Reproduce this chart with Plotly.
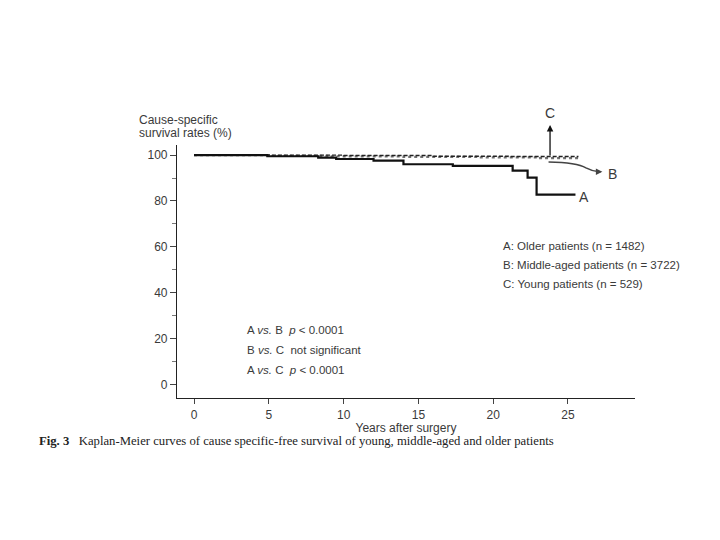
import plotly.graph_objects as go

# Kaplan-Meier step data (years, survival %)
a_years = [0, 4.9, 8.3, 9.5, 12.0, 14.0, 17.3, 21.3, 22.3, 22.9, 25.5]
a_surv = [100, 99.5, 98.9, 98.3, 97.6, 96.0, 95.3, 93.2, 90.2, 82.8, 82.8]

b_years = [0, 5.0, 9.0, 14.0, 19.0, 23.0, 25.8]
b_surv = [100, 99.7, 99.4, 99.2, 99.0, 98.7, 98.7]

c_years = [0, 10.0, 16.0, 21.0, 25.7]
c_surv = [100, 99.8, 99.5, 99.4, 99.4]

x_ticks = [0, 5, 10, 15, 20, 25]
y_ticks = [0, 20, 40, 60, 80, 100]

legend_lines = ["A: Older patients (n = 1482)",
                "B: Middle-aged patients (n = 3722)",
                "C: Young patients (n = 529)"]
pvalue_lines = ["A <i>vs.</i> B  <i>p</i> < 0.0001",
                "B <i>vs.</i> C  not significant",
                "A <i>vs.</i> C  <i>p</i> < 0.0001"]
title_lines = ["Cause-specific", "survival rates (%)"]

TXT = "#3a3a3a"
SANS = "Liberation Sans, Arial, sans-serif"


def py(pix):
    """screen pixel row -> paper y"""
    return (398 - pix) / 253


def px(pix):
    """screen pixel column -> paper x"""
    return (pix - 177) / 458


fig = go.Figure()
fig.add_trace(go.Scatter(x=b_years, y=b_surv, mode="lines", line_shape="hv",
                         line=dict(color="#707070", width=2.2, dash="dot"), showlegend=False))
fig.add_trace(go.Scatter(x=c_years, y=c_surv, mode="lines", line_shape="hv",
                         line=dict(color="#222222", width=1.4, dash="4px,2px"), showlegend=False))
fig.add_trace(go.Scatter(x=a_years, y=a_surv, mode="lines", line_shape="hv",
                         line=dict(color="#111111", width=2.2), showlegend=False))

# C arrow (pointing up to label)
fig.add_annotation(x=23.8, xref="x", yref="paper", y=py(125), ax=0, ay=32, text="",
                   showarrow=True, arrowhead=2, arrowsize=1, arrowwidth=1.3, arrowcolor="#111")
fig.add_annotation(x=23.8, xref="x", yref="paper", y=py(123), text="C", showarrow=False,
                   yanchor="bottom", font=dict(family=SANS, size=14, color=TXT))
# B curved arrow
fig.add_shape(type="path", path="M 23.7 97.0 Q 25.6 96.8 26.2 94.4 Q 26.6 93.0 27.0 92.9",
              line=dict(color="#444", width=1.5))
fig.add_annotation(x=27.3, y=92.7, ax=-6, ay=0, text="", showarrow=True,
                   arrowhead=2, arrowsize=1, arrowwidth=1.3, arrowcolor="#444")
fig.add_annotation(x=28.0, y=91.8, text="B", showarrow=False,
                   font=dict(family=SANS, size=14, color=TXT))
fig.add_annotation(x=26.1, y=81.8, text="A", showarrow=False,
                   font=dict(family=SANS, size=14, color=TXT))

for i, t in enumerate(legend_lines):
    fig.add_annotation(xref="paper", yref="paper", x=px(501), y=py(246 + i * 19), text=t,
                       showarrow=False, xanchor="left", yanchor="middle",
                       font=dict(family=SANS, size=11.5, color=TXT))
for i, t in enumerate(pvalue_lines):
    fig.add_annotation(xref="paper", yref="paper", x=px(245), y=py(330 + i * 20), text=t,
                       showarrow=False, xanchor="left", yanchor="middle",
                       font=dict(family=SANS, size=11.5, color=TXT))

# axis title (top-left)
for i, t in enumerate(title_lines):
    fig.add_annotation(xref="paper", yref="paper", x=px(137), y=py(120 + i * 13), text=t,
                       showarrow=False, xanchor="left", yanchor="middle",
                       font=dict(family=SANS, size=12, color=TXT))
# caption
fig.add_annotation(xref="paper", yref="paper", x=px(37), y=py(441),
                   text="<b>Fig. 3</b>   Kaplan-Meier curves of cause specific-free survival of young, middle-aged and older patients",
                   showarrow=False, xanchor="left", yanchor="middle",
                   font=dict(family="Liberation Serif, Times New Roman, serif", size=12.7, color="#222"))

fig.update_xaxes(range=[-1.14, 29.48], tickvals=x_ticks, showline=True, linecolor="#222",
                 linewidth=1.2, ticks="outside", ticklen=5, tickcolor="#444",
                 showgrid=False, zeroline=False,
                 tickfont=dict(family=SANS, size=12, color=TXT),
                 title=dict(text="Years after surgery", standoff=0,
                            font=dict(family=SANS, size=12, color=TXT)))
fig.update_yaxes(range=[-5.9, 104.4], tickvals=y_ticks, showline=True, linecolor="#222",
                 linewidth=1.2, ticks="outside", ticklen=6, tickcolor="#444",
                 minor=dict(tickvals=[10, 30, 50, 70, 90], ticks="outside", ticklen=4, tickcolor="#777"),
                 showgrid=False, zeroline=False,
                 tickfont=dict(family=SANS, size=12, color=TXT))

# page body adds an 8px offset; margins compensate
fig.update_layout(width=720, height=540, margin=dict(l=169, r=93, t=137, b=150),
                  plot_bgcolor="white", paper_bgcolor="white", showlegend=False)
fig.write_html("out.html")
